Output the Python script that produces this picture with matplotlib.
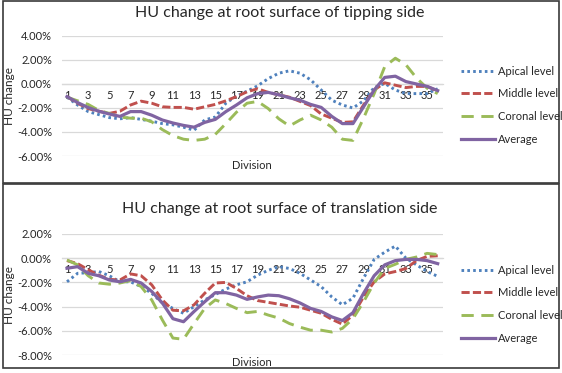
import matplotlib
matplotlib.use('Agg')
import matplotlib.pyplot as plt
from matplotlib.patches import Rectangle

plt.rcParams['font.family'] = ['Lato', 'DejaVu Sans']

# division numbers 1..36, labels on odd divisions
divisions = list(range(1, 37))
tick_labels = [str(d) for d in range(1, 37, 2)]

# tipping side (%)
tip_apical = [-1.1, -1.75, -2.3, -2.55, -2.8, -2.9, -2.8, -2.95, -3.1, -3.3, -3.4, -3.6,
              -3.85, -3.0, -2.75, -1.6, -1.0, -0.6, -0.15, 0.45, 0.9, 1.1, 0.9, 0.35,
              -0.5, -1.35, -1.75, -2.0, -1.4, -0.3, 0.05, -0.5, -0.8, -0.8, -0.8, -0.4]
tip_middle = [-1.05, -1.6, -2.05, -2.27, -2.45, -2.27, -1.75, -1.43, -1.6, -1.9, -1.95, -1.95,
              -2.1, -1.9, -1.7, -1.4, -1.05, -0.65, -0.4, -0.7, -0.9, -1.1, -1.45, -1.8,
              -2.5, -2.85, -3.2, -3.15, -1.75, -0.5, 0.1, -0.1, -0.3, -0.2, -0.2, -0.6]
tip_coronal = [-1.1, -1.4, -1.7, -2.2, -2.45, -2.75, -2.85, -2.85, -3.15, -3.8, -4.3, -4.6,
               -4.7, -4.6, -4.2, -3.3, -2.35, -1.6, -1.45, -2.05, -2.9, -3.5, -3.0, -2.6,
               -3.0, -3.6, -4.6, -4.7, -2.85, -0.8, 1.45, 2.15, 1.6, 0.5, -0.35, -0.8]
tip_average = [-1.05, -1.55, -1.96, -2.27, -2.5, -2.7, -2.3, -2.3, -2.6, -3.0, -3.25, -3.45,
               -3.6, -3.2, -2.95, -2.3, -1.75, -1.15, -0.8, -0.7, -0.9, -1.15, -1.35, -1.7,
               -1.95, -2.7, -3.3, -3.3, -1.9, -0.5, 0.55, 0.65, 0.2, 0.0, -0.2, -0.55]

# translation side (%)
tr_apical = [-1.95, -1.25, -1.2, -1.1, -1.45, -1.95, -1.95, -2.35, -2.9, -3.7, -4.15, -4.55,
             -4.0, -3.45, -3.0, -2.55, -2.2, -1.95, -1.4, -1.0, -0.7, -0.85, -1.25, -1.8,
             -2.35, -3.2, -3.85, -3.3, -1.65, -0.1, 0.5, 1.0, 0.0, -0.55, -1.1, -1.5]
tr_middle = [-0.2, -0.45, -0.95, -1.4, -1.75, -1.8, -1.3, -1.45, -2.2, -3.45, -4.3, -4.35,
             -3.85, -2.9, -2.05, -2.0, -2.5, -3.1, -3.5, -3.65, -3.8, -3.95, -4.05, -4.3,
             -4.55, -5.05, -5.45, -4.7, -3.2, -1.95, -1.3, -1.1, -0.85, -0.2, 0.15, 0.2]
tr_coronal = [-0.15, -0.55, -1.45, -2.05, -2.15, -2.05, -1.85, -2.35, -3.45, -5.1, -6.6, -6.7,
              -5.4, -4.15, -3.45, -3.75, -4.15, -4.5, -4.4, -4.7, -4.95, -5.4, -5.7, -5.95,
              -5.95, -6.1, -5.8, -5.0, -3.6, -2.05, -0.85, -0.5, -0.1, 0.1, 0.4, 0.3]
tr_average = [-0.83, -0.7, -1.25, -1.45, -1.8, -1.95, -1.75, -2.05, -2.75, -3.7, -5.0, -5.25,
              -4.4, -3.6, -2.85, -2.85, -3.05, -3.4, -3.2, -3.05, -3.1, -3.35, -3.7, -4.15,
              -4.4, -4.85, -5.15, -4.5, -2.9, -1.45, -0.55, -0.2, -0.1, -0.1, -0.2, -0.45]

W, H = 562, 373
fig = plt.figure(figsize=(W / 100, H / 100), dpi=100)

text_col = '#262626'
grid_col = '#d9d9d9'


def draw_panel(rect, title, title_y, data, ylim, label_y, legend_y, div_y):
    ax = fig.add_axes(rect)
    x = list(range(len(divisions)))
    ap, mid, cor, avg = data
    ax.plot(x, ap, color='#4F81BD', lw=2.1, linestyle=(0, (0.9, 1.1)), label='Apical level')
    ax.plot(x, mid, color='#C0504D', lw=2.1, linestyle=(0, (2.8, 1.1)), label='Middle level')
    ax.plot(x, cor, color='#9BBB59', lw=2.1, linestyle=(0, (4.2, 2.6)), label='Coronal level')
    ax.plot(x, avg, color='#8064A2', lw=2.3, label='Average')

    ax.set_xlim(-0.5, len(divisions) - 0.5)
    ax.set_ylim(*ylim)
    ax.set_yticks(range(ylim[0], ylim[1] + 1, 2))
    ax.set_yticklabels(['%.2f%%' % v for v in range(ylim[0], ylim[1] + 1, 2)])
    ax.set_xticks(range(0, len(divisions), 2))
    ax.set_xticklabels(tick_labels)
    ax.yaxis.grid(True, color=grid_col, lw=0.9)
    ax.set_axisbelow(True)
    for s in ['top', 'right', 'left']:
        ax.spines[s].set_visible(False)
    ax.spines['bottom'].set_position(('data', 0))
    ax.spines['bottom'].set_color(grid_col)
    ax.spines['bottom'].set_linewidth(0.9)
    ax.spines['bottom'].set_zorder(0)
    ax.tick_params(axis='x', length=0, pad=4.5, labelsize=8, labelcolor=text_col)
    ax.tick_params(axis='y', length=0, pad=7, labelsize=8, labelcolor=text_col)

    ax.text(0.5, div_y, 'Division', transform=ax.transAxes, ha='center', va='center',
            fontsize=8, color=text_col)
    fig.text(0.497, title_y, title, ha='center', va='center', fontsize=11.5, color=text_col)
    fig.text(0.017, label_y, 'HU change', rotation=90, ha='center', va='center',
             fontsize=8.5, color=text_col)
    fig.legend(handles=ax.get_lines(), loc='center left', bbox_to_anchor=(461 / W, legend_y),
               frameon=False, borderpad=0, borderaxespad=0, handlelength=3.1,
               handletextpad=0.2, labelspacing=1.05, fontsize=8, labelcolor=text_col)
    return ax


draw_panel([61.7 / W, 1 - 156 / H, 381.3 / W, 120 / H],
           'HU change at root surface of tipping side', 1 - 12.5 / H,
           (tip_apical, tip_middle, tip_coronal, tip_average), (-6, 4),
           1 - 96 / H, 1 - 105.2 / H, -0.075)

draw_panel([61.7 / W, 1 - 355 / H, 381.3 / W, 121 / H],
           'HU change at root surface of translation side', 1 - 208.5 / H,
           (tr_apical, tr_middle, tr_coronal, tr_average), (-8, 2),
           1 - 294.5 / H, 1 - 304.2 / H, -0.058)

# chart borders
for y0, y1 in [(1, 183), (184, 368)]:
    fig.add_artist(Rectangle((2.5 / W, 1 - y1 / H), (559 - 2.5) / W, (y1 - y0) / H,
                             transform=fig.transFigure, fill=False, ec='#3a3a3a', lw=1.2))

fig.savefig('out.png', dpi=100)
